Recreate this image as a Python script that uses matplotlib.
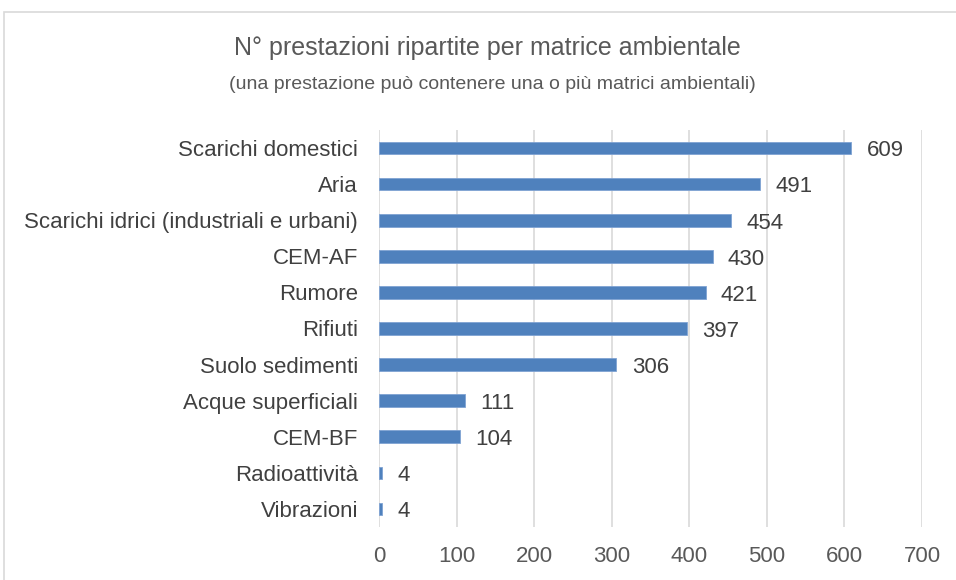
import matplotlib.pyplot as plt
import matplotlib.patches as patches

# Dati
categorie = ["Scarichi domestici", "Aria", "Scarichi idrici (industriali e urbani)",
             "CEM-AF", "Rumore", "Rifiuti", "Suolo sedimenti",
             "Acque superficiali", "CEM-BF", "Radioattività", "Vibrazioni"]
valori = [609, 491, 454, 430, 421, 397, 306, 111, 104, 4, 4]
ticks_x = [0, 100, 200, 300, 400, 500, 600, 700]

plt.rcParams['font.family'] = ['Liberation Sans', 'DejaVu Sans']

fig = plt.figure(figsize=(9.56, 5.80), dpi=100)
ax = fig.add_axes([379 / 956, 1 - 527 / 580, (922 - 379) / 956, (527 - 130) / 580])

y = list(range(len(categorie)))[::-1]
ax.barh(y, valori, height=0.35, color='#4F81BD', edgecolor='#7FA3D3', linewidth=0.6, zorder=3)

for yi, v in zip(y, valori):
    ax.annotate(str(v), (v, yi), xytext=(11, -2), textcoords='offset points',
                va='center', ha='left', fontsize=16, color='#404040')

ax.set_xlim(0, 700)
ax.set_ylim(-0.5, len(categorie) - 0.5)
ax.set_xticks(ticks_x)
ax.set_xticklabels([str(t) for t in ticks_x], fontsize=16, color='#595959')
ax.set_yticks(y)
ax.set_yticklabels(categorie, fontsize=16, color='#404040')
ax.tick_params(axis='both', length=0)
ax.tick_params(axis='x', pad=14)
ax.tick_params(axis='y', pad=15)
ax.grid(axis='x', color='#D9D9D9', linewidth=1.2, zorder=0)
for s in ax.spines.values():
    s.set_visible(False)

fig.text(487 / 956, 1 - 48 / 580, "N° prestazioni ripartite per matrice ambientale",
         ha='center', va='center', fontsize=18, color='#595959')
fig.text(492 / 956, 1 - 84 / 580, "(una prestazione può contenere una o più matrici ambientali)",
         ha='center', va='center', fontsize=14, color='#595959')

# cornice del grafico
fig.patches.append(patches.Rectangle((4 / 956, -0.05), 1.0, 1 - 12 / 580 + 0.05,
                                     transform=fig.transFigure, fill=False,
                                     edgecolor='#D9D9D9', linewidth=1.2))

fig.savefig('out.png', dpi=100)
